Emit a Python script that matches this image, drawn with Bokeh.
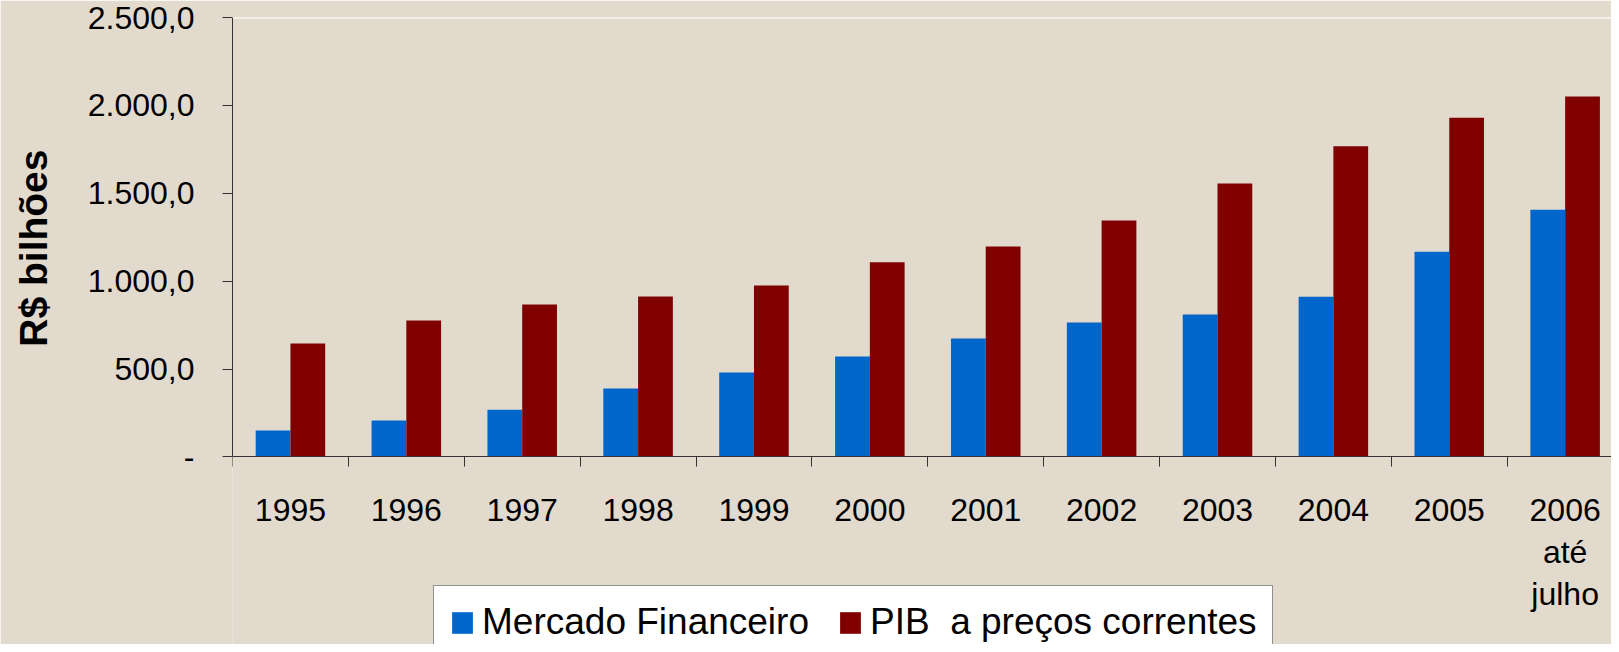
from bokeh.plotting import figure
from bokeh.models import Range1d, FixedTicker, Span, Legend, LegendItem, ColumnDataSource, Title, LinearAxis
from bokeh.embed import file_html
from bokeh.resources import INLINE

years = ["1995", "1996", "1997", "1998", "1999", "2000", "2001", "2002", "2003", "2004", "2005", "2006\naté\njulho"]
mercado = [150, 207, 269, 389, 480, 571, 674, 765, 810, 912, 1168, 1407]
pib = [645, 776, 867, 913, 975, 1107, 1197, 1345, 1556, 1767, 1930, 2051]
y_ticks = [0, 500, 1000, 1500, 2000, 2500]
y_labels = ["-", "500,0", "1.000,0", "1.500,0", "2.000,0", "2.500,0"]
y_title = "R$ bilhões"
series_names = ["Mercado Financeiro", "PIB  a preços correntes"]

FONT = "Liberation Sans"
BG = "#E3DACE"

centers = [i + 0.5 for i in range(len(years))]
bounds = [i for i in range(len(years) + 1)]

src = ColumnDataSource(dict(
    xb=[c - 0.15 for c in centers],
    xr=[c + 0.15 for c in centers],
    mercado=mercado,
    pib=pib,
))

p = figure(width=1611, height=644, output_backend="svg", toolbar_location=None,
           x_range=Range1d(0, 11.9), y_range=Range1d(-1067, 2500),
           min_border_left=232, min_border_right=0, min_border_top=17, min_border_bottom=0)
p.background_fill_color = BG
p.border_fill_color = BG
p.outline_line_color = None
p.grid.visible = False

r1 = p.vbar(x="xb", top="mercado", width=0.3, source=src, fill_color="#0066CC", line_color=None)
r2 = p.vbar(x="xr", top="pib", width=0.3, source=src, fill_color="#800000", line_color=None)

p.add_layout(Span(location=2500, dimension="width", line_color="white", line_width=2))

# y axis
yax = p.yaxis[0]
yax.ticker = FixedTicker(ticks=y_ticks, minor_ticks=[])
yax.bounds = (0, 2500)
yax.major_label_overrides = {t: l for t, l in zip(y_ticks, y_labels)}
yax.major_label_text_font = FONT
yax.major_label_text_font_size = "32px"
yax.major_label_text_color = "black"
yax.major_tick_out = 10
yax.major_tick_in = 0
yax.major_tick_line_color = "#333333"
yax.axis_line_color = "#333333"
yax.major_label_standoff = 28

# invisible spacer between the tick labels and the axis title
spacer = LinearAxis(ticker=FixedTicker(ticks=[2500], minor_ticks=[]), axis_line_color=None,
                    major_tick_line_color=None, minor_tick_line_color=None,
                    major_tick_out=30, major_tick_in=0, minor_tick_out=0, minor_tick_in=0,
                    major_label_overrides={2500: ""}, major_label_text_font_size="0px",
                    major_label_standoff=0, axis_label_standoff=0)
p.add_layout(spacer, "left")

p.add_layout(Title(text=y_title, align="right", offset=132, standoff=0,
                   vertical_align="bottom",
                   text_font=FONT, text_font_size="39px", text_font_style="bold",
                   text_color="black"), "left")

# x axis, drawn at the zero line
xax = p.xaxis[0]
xax.fixed_location = 0
xax.ticker = FixedTicker(ticks=centers, minor_ticks=bounds)
xax.major_label_overrides = {c: y for c, y in zip(centers, years)}
xax.major_label_text_font = FONT
xax.major_label_text_font_size = "32px"
xax.major_label_text_color = "black"
xax.major_label_text_line_height = 1.17
xax.major_tick_out = 0
xax.major_tick_in = 0
xax.minor_tick_out = 10
xax.minor_tick_in = 0
xax.minor_tick_line_color = "#333333"
xax.axis_line_color = "#333333"
xax.major_label_standoff = 25

legend = Legend(items=[LegendItem(label=series_names[0], renderers=[r1]),
                       LegendItem(label=series_names[1], renderers=[r2])],
                location=(201, -15), orientation="horizontal",
                label_text_font=FONT, label_text_font_size="37px", label_text_color="black",
                glyph_width=26, glyph_height=27, label_standoff=7, spacing=28,
                padding=15, margin=0,
                border_line_color="#222222", border_line_width=1.5,
                background_fill_color="white", background_fill_alpha=1.0)
p.add_layout(legend, "center")

open("out.html", "w").write(file_html(p, INLINE))
